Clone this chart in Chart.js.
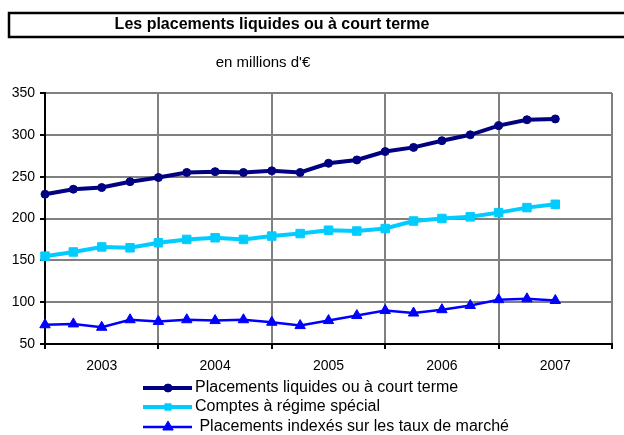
<!DOCTYPE html>
<html>
<head>
<meta charset="utf-8">
<script src="https://cdn.jsdelivr.net/npm/chart.js@4/dist/chart.umd.min.js"></script>
<style>
  html, body { margin: 0; padding: 0; background: #fff; }
  canvas { display: block; }
</style>
</head>
<body>
<canvas id="placements" width="624" height="435"></canvas>
<script>
// valeurs trimestrielles (en millions d'euros), une par trimestre
const yearLabels = ['2003', '2004', '2005', '2006', '2007'];
const seriesNames = [
    'Placements liquides ou à court terme',
    'Comptes à régime spécial',
    ' Placements indexés sur les taux de marché'
];
const liquides = [229, 235, 237, 244, 249, 255, 256, 255, 257, 255, 266, 270, 280, 285, 293, 300, 311, 318, 319];
const comptes = [155, 160, 166, 165, 171, 175, 177, 175, 179, 182, 186, 185, 188, 197, 200, 202, 207, 213, 217];
const indexes = [73, 74, 70, 79, 77, 79, 78, 79, 76, 72, 78, 84, 90, 87, 91, 96, 103, 104, 102];
const yTicks = [50, 100, 150, 200, 250, 300, 350];

const toPoints = arr => arr.map((v, i) => ({ x: i, y: v }));

const canvas = document.getElementById('placements');
const ctx = canvas.getContext('2d');

// taille des marqueurs dans la légende (plus petits que sur les courbes)
const legendRadius = [4, 4.5, 6];

new Chart(ctx, {
    type: 'line',
    data: {
        datasets: [{
            label: seriesNames[0],
            data: toPoints(liquides),
            borderColor: '#000080',
            backgroundColor: '#000080',
            borderWidth: 4,
            pointStyle: 'circle',
            pointRadius: 4,
            pointBorderWidth: 1,
            clip: false
        }, {
            label: seriesNames[1],
            data: toPoints(comptes),
            borderColor: '#00CCFF',
            backgroundColor: '#00CCFF',
            borderWidth: 4,
            pointStyle: 'rect',
            pointRadius: 6,
            pointBorderWidth: 1,
            clip: false
        }, {
            label: seriesNames[2],
            data: toPoints(indexes),
            borderColor: '#0000FF',
            backgroundColor: '#0000FF',
            borderWidth: 2.5,
            pointStyle: 'triangle',
            pointRadius: 6,
            pointBorderWidth: 1,
            clip: false
        }]
    },
    options: {
        responsive: false,
        animation: false,
        layout: {
            padding: { top: 93, right: 12, left: 0, bottom: 0 }
        },
        scales: {
            x: {
                type: 'linear',
                min: 0,
                max: 20,
                afterFit: s => { s.height = 91; },
                afterBuildTicks: s => {
                    const t = [];
                    for (let v = 0; v <= 20; v += 2) t.push({ value: v });
                    s.ticks = t;
                },
                ticks: {
                    autoSkip: false,
                    maxRotation: 0,
                    padding: 9,
                    color: '#000',
                    font: { family: 'Arial, "Liberation Sans"', size: 14 },
                    callback: v => (v % 4 === 2 ? yearLabels[(v - 2) / 4] : '')
                },
                grid: {
                    lineWidth: 2,
                    tickLength: 5,
                    color: c => (c.tick && c.tick.value % 4 === 0 ? '#808080' : 'rgba(0,0,0,0)'),
                    tickColor: c => (c.tick && c.tick.value % 4 === 0 ? '#000' : 'rgba(0,0,0,0)')
                },
                border: { color: '#000', width: 2 }
            },
            y: {
                min: 50,
                max: 350,
                afterFit: s => { s.width = 45; },
                afterBuildTicks: s => { s.ticks = yTicks.map(v => ({ value: v })); },
                ticks: {
                    padding: 5,
                    color: '#000',
                    font: { family: 'Arial, "Liberation Sans"', size: 14 }
                },
                grid: {
                    lineWidth: 2,
                    tickLength: 5,
                    color: '#808080',
                    tickColor: '#000'
                },
                border: { color: '#000', width: 2 }
            }
        },
        plugins: {
            legend: { display: false },
            tooltip: { enabled: false }
        }
    },
    plugins: [{
        id: 'titreEtLegende',
        afterDraw: (chart) => {
            const c = chart.ctx;

            // cadre du titre
            c.save();
            c.strokeStyle = '#000';
            c.lineWidth = 2.5;
            c.strokeRect(9, 13, 640, 24);
            c.fillStyle = '#000';
            c.font = 'bold 16px Arial, "Liberation Sans"';
            c.textAlign = 'center';
            c.textBaseline = 'middle';
            c.fillText('Les placements liquides ou à court terme', 272, 25);
            c.font = '15px Arial, "Liberation Sans"';
            c.fillText("en millions d'€", 263, 63);
            c.restore();

            // légende
            c.save();
            const ys = [388, 407, 427];
            chart.data.datasets.forEach((ds, i) => {
                const y = ys[i];
                c.strokeStyle = ds.borderColor;
                c.lineWidth = ds.borderWidth;
                c.beginPath();
                c.moveTo(143, y);
                c.lineTo(192, y);
                c.stroke();
                c.fillStyle = ds.backgroundColor;
                c.lineWidth = ds.pointBorderWidth;
                Chart.helpers.drawPoint(c, {
                    pointStyle: ds.pointStyle,
                    radius: legendRadius[i],
                    borderWidth: ds.pointBorderWidth,
                    rotation: 0
                }, 168, y);
                c.fillStyle = '#000';
                c.font = '16px Arial, "Liberation Sans"';
                c.textAlign = 'left';
                c.textBaseline = 'middle';
                c.fillText(ds.label, 195, y);
            });
            c.restore();
        }
    }]
});
</script>
</body>
</html>
